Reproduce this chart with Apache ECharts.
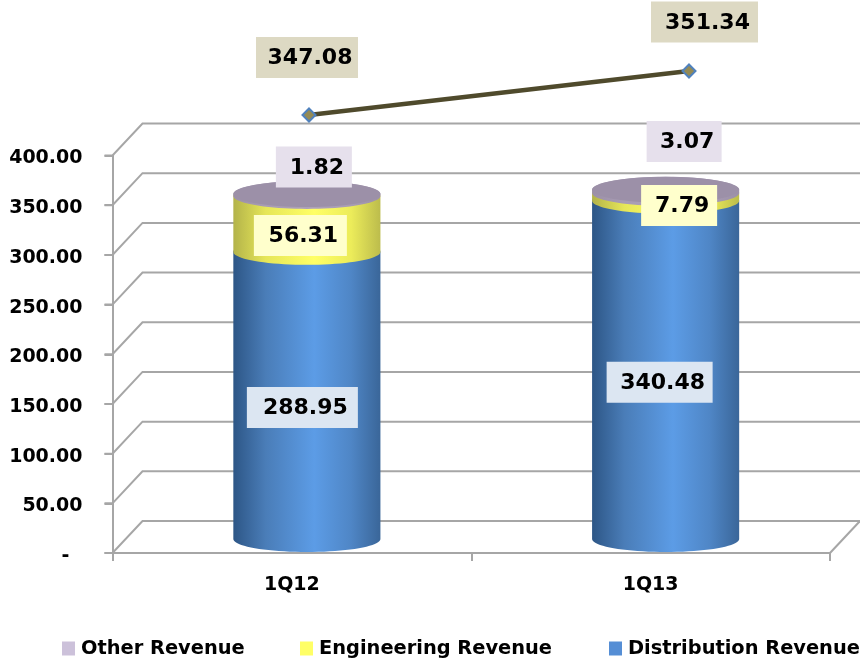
<!DOCTYPE html>
<html>
<head>
<meta charset="utf-8">
<title>Revenue</title>
<script src="https://cdn.jsdelivr.net/npm/echarts@6/dist/echarts.min.js"></script>
<style>
html, body { margin: 0; padding: 0; background: #fff; }
#box { width: 860px; height: 659px; }
</style>
</head>
<body>
<div id="box"></div>
<script>
var categories = ['1Q12', '1Q13'];
var distribution = [288.95, 340.48];
var engineering = [56.31, 7.79];
var other = [1.82, 3.07];
var total = [347.08, 351.34];
var yTicks = [0, 50, 100, 150, 200, 250, 300, 350, 400];

var FONT = '"DejaVu Sans", sans-serif';
var GREY = '#a6a6a6';
// depth of the fake 3d box, px
var DEPTH_X = 30, DEPTH_Y = 32;
var TICK = 8;
var CYL_DX = 15, CYL_DY = -14, CYL_RY = 13;

// label boxes: dx, dy from the anchor point, width
var otherBoxes = [[22, -42, 76], [33.5, -64, 75]];
var engBoxes = [[8.5, -2.5, 93], [28.5, -5.4, 76]];
var distBoxes = [[10.5, -2, 111], [9, -1.6, 106]];
var totalBoxes = [[-2, -57.5, 102], [15.5, -49, 107]];

var chart = echarts.init(document.getElementById('box'));

function sideGradient(edgeL, softL, mid, softR, edgeR) {
    return new echarts.graphic.LinearGradient(0, 0, 1, 0, [
        {offset: 0, color: edgeL},
        {offset: 0.22, color: softL},
        {offset: 0.55, color: mid},
        {offset: 0.8, color: softR},
        {offset: 1, color: edgeR}
    ]);
}

// cylinder outline between two values, lower arc bulges down, upper arc bulges up
function cylinderPoints(cx, y0, y1, rx) {
    var pts = [], n = 40, i, a;
    for (i = 0; i <= n; i++) {
        a = Math.PI * i / n;
        pts.push([cx - rx * Math.cos(a), y0 + CYL_RY * Math.sin(a)]);
    }
    for (i = 0; i <= n; i++) {
        a = Math.PI * i / n;
        pts.push([cx + rx * Math.cos(a), y1 - CYL_RY * Math.sin(a)]);
    }
    return pts;
}

function cylinderSeries(name, starts, values, fill, cap) {
    return {
        name: name,
        type: 'custom',
        xAxisIndex: 0,
        yAxisIndex: 0,
        z: 3,
        encode: {x: 0, y: 2},
        data: values.map(function (v, i) {
            return [i, starts[i], starts[i] + v];
        }),
        renderItem: function (params, api) {
            var i = api.value(0);
            var p0 = api.coord([i, api.value(1)]);
            var p1 = api.coord([i, api.value(2)]);
            var rx = api.size([1, 0])[0] * 0.41 / 2;
            var cx = p0[0] + CYL_DX;
            var y0 = p0[1] + CYL_DY;
            var y1 = p1[1] + CYL_DY;
            var children = [{
                type: 'polygon',
                shape: {points: cylinderPoints(cx, y0, y1, rx)},
                style: {fill: fill}
            }];
            if (cap) {
                children.push({
                    type: 'ellipse',
                    shape: {cx: cx, cy: y1, rx: rx, ry: CYL_RY},
                    style: {fill: cap}
                });
            }
            return {type: 'group', children: children};
        }
    };
}

function labelSeries(anchors, values, boxes, color, axisIndex) {
    return {
        type: 'custom',
        xAxisIndex: axisIndex,
        yAxisIndex: axisIndex,
        z: 6,
        silent: true,
        encode: {x: 0, y: 1},
        data: values.map(function (v, i) {
            return [i, anchors[i], v];
        }),
        renderItem: function (params, api) {
            var b = boxes[params.dataIndex];
            var p = api.coord([api.value(0), api.value(1)]);
            var cx = p[0] + b[0], cy = p[1] + b[1];
            return {
                type: 'group',
                children: [{
                    type: 'rect',
                    shape: {x: cx - b[2] / 2, y: cy - 20.5, width: b[2], height: 41},
                    style: {fill: color}
                }, {
                    type: 'text',
                    style: {
                        x: cx + 3,
                        y: cy + 1,
                        text: api.value(2).toFixed(2),
                        align: 'center',
                        verticalAlign: 'middle',
                        font: 'bold 22px ' + FONT,
                        fill: '#000'
                    }
                }]
            };
        }
    };
}

function legendItem(left, name, color) {
    return {
        left: left,
        top: 639,
        padding: 0,
        itemWidth: 13,
        itemHeight: 14,
        textStyle: {color: '#000', fontWeight: 'bold', fontSize: 19.4, fontFamily: FONT, padding: [0, 0, 0, 1]},
        data: [{name: name, icon: 'rect', itemStyle: {color: color}}]
    };
}

var engStart = distribution;
var otherStart = distribution.map(function (v, i) { return v + engineering[i]; });
var distMid = distribution.map(function (v) { return v / 2; });
var engMid = engineering.map(function (v, i) { return engStart[i] + v / 2; });
var otherMid = other.map(function (v, i) { return otherStart[i] + v / 2; });

var option = {
    animation: false,
    backgroundColor: '#fff',
    textStyle: {fontFamily: FONT},
    grid: [
        {left: 112.5, top: 155.5, width: 717.5, height: 397.5},
        // the total line sits on its own hidden scale
        {left: 309, top: 33.2, width: 380, height: 103.3}
    ],
    xAxis: [{
        type: 'category',
        gridIndex: 0,
        data: categories,
        axisLine: {lineStyle: {color: GREY, width: 2}},
        axisTick: {show: true, alignWithLabel: false, length: TICK, lineStyle: {color: GREY, width: 2}},
        axisLabel: {margin: 23, color: '#000', fontWeight: 'bold', fontSize: 19, fontFamily: FONT}
    }, {
        type: 'category',
        gridIndex: 1,
        show: false,
        boundaryGap: false,
        data: categories
    }],
    yAxis: [{
        type: 'value',
        gridIndex: 0,
        min: yTicks[0],
        max: yTicks[yTicks.length - 1],
        interval: 50,
        axisLine: {show: true, lineStyle: {color: GREY, width: 2}},
        axisTick: {show: true, length: TICK, lineStyle: {color: GREY, width: 2}},
        splitLine: {show: false},
        axisLabel: {
            margin: 30,
            color: '#000',
            fontWeight: 'bold',
            fontSize: 19,
            fontFamily: FONT,
            verticalAlign: 'top',
            lineHeight: 6,
            formatter: function (v) {
                return v === 0 ? '-  ' : v.toFixed(2);
            }
        }
    }, {
        type: 'value',
        gridIndex: 1,
        show: false,
        min: 345,
        max: 355,
        splitLine: {show: false}
    }],
    legend: [
        legendItem(62, 'Other Revenue', '#ccc1da'),
        legendItem(300, 'Engineering Revenue', '#ffff66'),
        legendItem(609, 'Distribution Revenue', '#558ed5')
    ],
    series: [
        // wall and floor lines
        {
            type: 'custom',
            xAxisIndex: 0,
            yAxisIndex: 0,
            z: 1,
            silent: true,
            encode: {y: 0},
            data: yTicks.map(function (v) { return [v]; }),
            renderItem: function (params, api) {
                var v = api.value(0);
                var y = api.coord([0, v])[1];
                var left = params.coordSys.x, right = left + params.coordSys.width;
                var lineStyle = {stroke: GREY, lineWidth: 2, fill: null};
                var children = [{
                    type: 'polyline',
                    shape: {points: [[left - TICK, y], [left, y], [left + DEPTH_X, y - DEPTH_Y], [right + DEPTH_X, y - DEPTH_Y]]},
                    style: lineStyle
                }];
                if (v === 0) {
                    children.push({
                        type: 'line',
                        shape: {x1: right, y1: y, x2: right + DEPTH_X, y2: y - DEPTH_Y},
                        style: lineStyle
                    });
                }
                return {type: 'group', children: children};
            }
        },
        cylinderSeries('Distribution Revenue', [0, 0], distribution,
            sideGradient('#2d5686', '#4a7db8', '#5c9ce6', '#4f86c6', '#3a6699'), null),
        cylinderSeries('Engineering Revenue', engStart, engineering,
            sideGradient('#b3b34a', '#e6e658', '#ffff66', '#ecec5a', '#bcbc4c'), null),
        cylinderSeries('Other Revenue', otherStart, other,
            sideGradient('#9c90a8', '#a89cb4', '#ada1b9', '#a89cb4', '#9c90a8'), '#9c90a8'),
        {
            type: 'line',
            xAxisIndex: 1,
            yAxisIndex: 1,
            z: 4,
            data: total,
            symbol: 'diamond',
            symbolSize: 13,
            lineStyle: {color: '#4f4a2c', width: 4.5},
            itemStyle: {color: '#948a54', borderColor: '#4f81bd', borderWidth: 2}
        },
        labelSeries(distMid, distribution, distBoxes, '#dce6f2', 0),
        labelSeries(engMid, engineering, engBoxes, '#ffffcc', 0),
        labelSeries(otherMid, other, otherBoxes, '#e6e0ec', 0),
        labelSeries(total, total, totalBoxes, '#ddd9c3', 1)
    ]
};
chart.setOption(option);
</script>
</body>
</html>
